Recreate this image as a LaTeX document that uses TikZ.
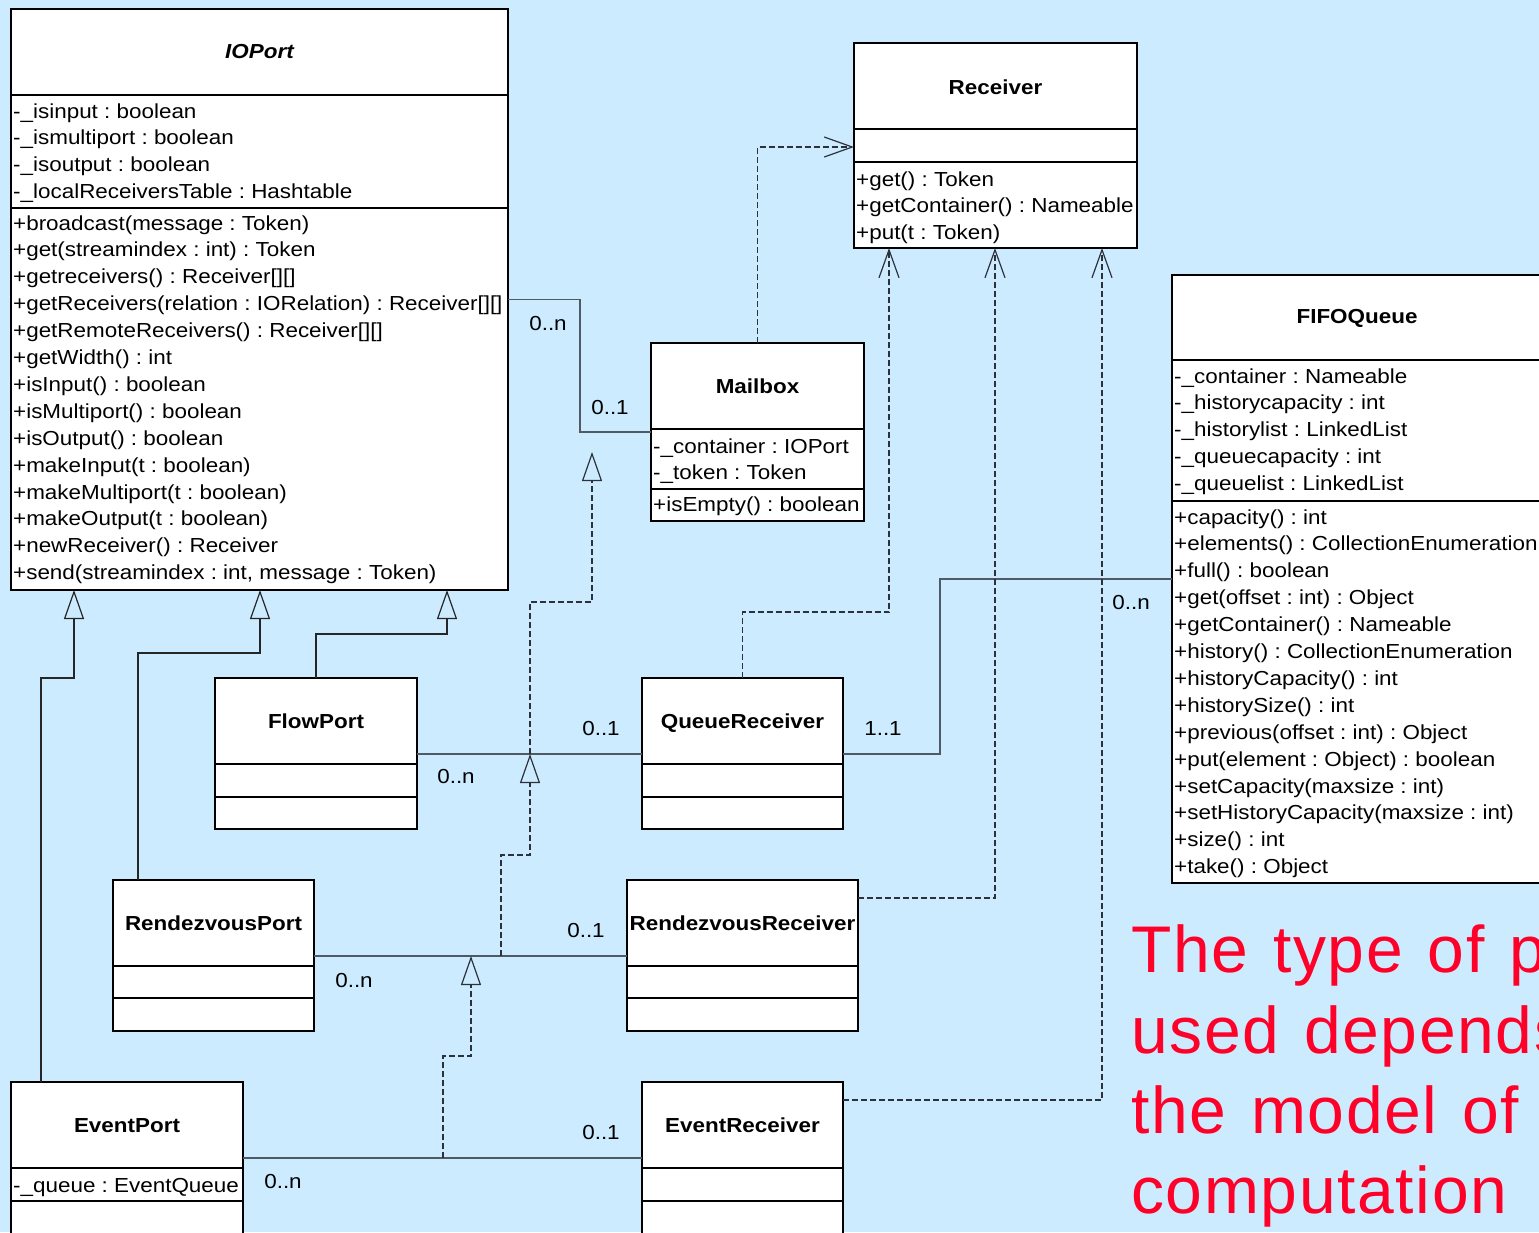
\documentclass[tikz,border=0pt]{standalone}
\usepackage{fontspec}
\setmainfont{Liberation Sans}
\newfontfamily\umlfont[FakeStretch=1.105]{Liberation Sans}
\newfontfamily\notefont[LetterSpace=2.5,WordSpace=1.25]{Liberation Sans}
\usetikzlibrary{arrows.meta}
\frenchspacing

\definecolor{bgblue}{RGB}{204,235,255}
\definecolor{notered}{RGB}{255,0,40}
\definecolor{assocgray}{RGB}{80,90,100}
\definecolor{dashgray}{RGB}{45,50,58}

\tikzset{
  classbox/.style={draw=black, fill=white, line width=2pt, rectangle,
    inner sep=0pt, outer sep=0pt, anchor=north west},
  sepline/.style={draw=black, line width=2pt},
  member/.style={font=\umlfont\fontsize{20.3}{24}\selectfont, inner sep=0pt, text=black},
  classname/.style={font=\umlfont\bfseries\fontsize{20.3}{24}\selectfont, inner sep=0pt, anchor=base},
  mult/.style={member, anchor=base},
  assoc/.style={draw=assocgray, line width=1.4pt},
  inherit/.style={draw=black!85, line width=1.2pt,
    -{Triangle[open, length=29pt, width=20pt, line width=1.2pt]}},
  depend/.style={draw=dashgray, line width=1.2pt, dash pattern=on 6pt off 3pt,
    -{Straight Barb[length=28pt, width=20pt, line width=1.2pt]}},
  assocgen/.style={draw=dashgray, line width=1.2pt, dash pattern=on 6pt off 3pt,
    -{Triangle[open, length=29pt, width=20pt, line width=1.2pt]}},
  note/.style={font=\notefont\fontsize{66}{80}\selectfont, text=notered,
    inner sep=0pt, anchor=base west}
}

% box with two compartment separators: name, x1, y1, x2, y2, sep1, sep2
\newcommand\umlbox[7]{%
  \node[classbox, minimum width={#4-#2}, minimum height={#5-#3}] (#1) at (#2,#3) {};
  \draw[sepline] (#2,#6) -- (#4,#6);
  \draw[sepline] (#2,#7) -- (#4,#7);
}
% stacked member lines: prefix, x, first baseline, list
\newcommand\umlmembers[4]{%
  \foreach \mline [count=\k from 0] in {#4} {
    \node[member, anchor=base west] (#1-\k) at (#2, {#3+\k*26.9}) {\mline};
  }%
}

\begin{document}
\begin{tikzpicture}[x=1pt, y=-1pt]
\fill[bgblue] (0,0) rectangle (1539,1232);
\useasboundingbox (0,0) rectangle (1539,1232);
\clip (0,0) rectangle (1539,1232);

% ---------- classes ----------
\umlbox{ioport}{11}{9}{508}{590}{95}{208}
\node[classname, font=\umlfont\bfseries\itshape\fontsize{20.3}{24}\selectfont] (ioport-title) at (259.5,58) {IOPort};
\umlmembers{ioport-a}{13}{118}{-\_isinput : boolean, -\_ismultiport : boolean, -\_isoutput : boolean, -\_localReceiversTable : Hashtable}
\umlmembers{ioport-m}{13}{230}{+broadcast(message : Token), +get(streamindex : int) : Token, +getreceivers() : Receiver[][], +getReceivers(relation : IORelation) : Receiver[][], +getRemoteReceivers() : Receiver[][], +getWidth() : int, +isInput() : boolean, +isMultiport() : boolean, +isOutput() : boolean, +makeInput(t : boolean), +makeMultiport(t : boolean), +makeOutput(t : boolean), +newReceiver() : Receiver, {+send(streamindex : int, message : Token)}}

\umlbox{receiver}{854}{43}{1137}{248}{129}{162}
\node[classname] (receiver-title) at (995.5,94) {Receiver};
\umlmembers{receiver-m}{856}{186}{+get() : Token, +getContainer() : Nameable, +put(t : Token)}

\umlbox{fifo}{1172}{275}{1542}{883}{360}{501}
\node[classname] (fifo-title) at (1357,323) {FIFOQueue};
\umlmembers{fifo-a}{1174}{383}{-\_container : Nameable, -\_historycapacity : int, -\_historylist : LinkedList, -\_queuecapacity : int, -\_queuelist : LinkedList}
\umlmembers{fifo-m}{1174}{524}{+capacity() : int, +elements() : CollectionEnumeration, +full() : boolean, +get(offset : int) : Object, +getContainer() : Nameable, +history() : CollectionEnumeration, +historyCapacity() : int, +historySize() : int, +previous(offset : int) : Object, +put(element : Object) : boolean, +setCapacity(maxsize : int), +setHistoryCapacity(maxsize : int), +size() : int, +take() : Object}

\umlbox{mailbox}{651}{343}{864}{521}{429}{489}
\node[classname] (mailbox-title) at (757.5,393) {Mailbox};
\umlmembers{mailbox-a}{653}{453}{-\_container : IOPort, -\_token : Token}
\umlmembers{mailbox-m}{653}{511}{+isEmpty() : boolean}

\umlbox{flowport}{215}{678}{417}{829}{764}{797}
\node[classname] (flowport-title) at (316,728) {FlowPort};

\umlbox{qrecv}{642}{678}{843}{829}{764}{797}
\node[classname] (qrecv-title) at (742.5,728) {QueueReceiver};

\umlbox{rport}{113}{880}{314}{1031}{966}{998}
\node[classname] (rport-title) at (213.5,930) {RendezvousPort};

\umlbox{rrecv}{627}{880}{858}{1031}{966}{998}
\node[classname] (rrecv-title) at (742.5,930) {RendezvousReceiver};

\umlbox{eport}{11}{1082}{243}{1250}{1168}{1201}
\node[classname] (eport-title) at (127,1132) {EventPort};
\umlmembers{eport-a}{13}{1192}{-\_queue : EventQueue}

\umlbox{erecv}{642}{1082}{843}{1250}{1168}{1201}
\node[classname] (erecv-title) at (742.5,1132) {EventReceiver};

% ---------- associations ----------
\draw[assoc] (ioport.east) -| (580,366) |- (mailbox.west);
\draw[assoc] (flowport.east |- 0,754) -- (qrecv.west |- 0,754);
\draw[assoc] (rport.east |- 0,956) -- (rrecv.west |- 0,956);
\draw[assoc] (eport.east |- 0,1158) -- (erecv.west |- 0,1158);
\draw[assoc] (qrecv.east |- 0,754) -| (940,660) |- (fifo.west |- 0,579);

\coordinate (fq-link) at (530,754);
\coordinate (rr-link) at (501,956);
\coordinate (rr-head) at (471,956);
\coordinate (ee-link) at (443,1158);
\coordinate (mb-head) at (592,452);

% multiplicities
\node[mult] (m1) at (548,330) {0..n};
\node[mult] (m2) at (610,414) {0..1};
\node[mult] (m3) at (601,735) {0..1};
\node[mult] (m4) at (456,783) {0..n};
\node[mult] (m5) at (883,735) {1..1};
\node[mult] (m6) at (1131,609) {0..n};
\node[mult] (m7) at (586,937) {0..1};
\node[mult] (m8) at (354,987) {0..n};
\node[mult] (m9) at (601,1139) {0..1};
\node[mult] (m10) at (283,1188) {0..n};

% ---------- generalizations ----------
\draw[inherit] (flowport.north) |- (447,634) -- (ioport.south -| 447,0);
\draw[inherit] (rport.north -| 138,0) |- (260,653) -- (ioport.south -| 260,0);
\draw[inherit] (eport.north -| 41,0) |- (74,678) -- (ioport.south -| 74,0);

% ---------- realizations of Receiver ----------
\draw[depend] (mailbox.north) |- (receiver.west |- 0,147);
\draw[depend] (qrecv.north) |- (889,612) -- (receiver.south -| 889,0);
\draw[depend] (rrecv.east |- 0,898) -| (receiver.south -| 995,0);
\draw[depend] (erecv.east |- 0,1100) -| (receiver.south -| 1102,0);

% ---------- association specializations ----------
\draw[assocgen] (rr-link) |- (530,855) -- (fq-link);
\draw[assocgen] (ee-link) |- (471,1056) -- (rr-head);
\draw[assocgen] (fq-link) |- (592,602) -- (mb-head);

% ---------- note ----------
\node[note] (note1) at (1131,972) {The type of port};
\node[note] (note2) at (1131,1053) {used depends on};
\node[note] (note3) at (1131,1133) {the model of};
\node[note] (note4) at (1131,1213) {computation};
\end{tikzpicture}
\end{document}
